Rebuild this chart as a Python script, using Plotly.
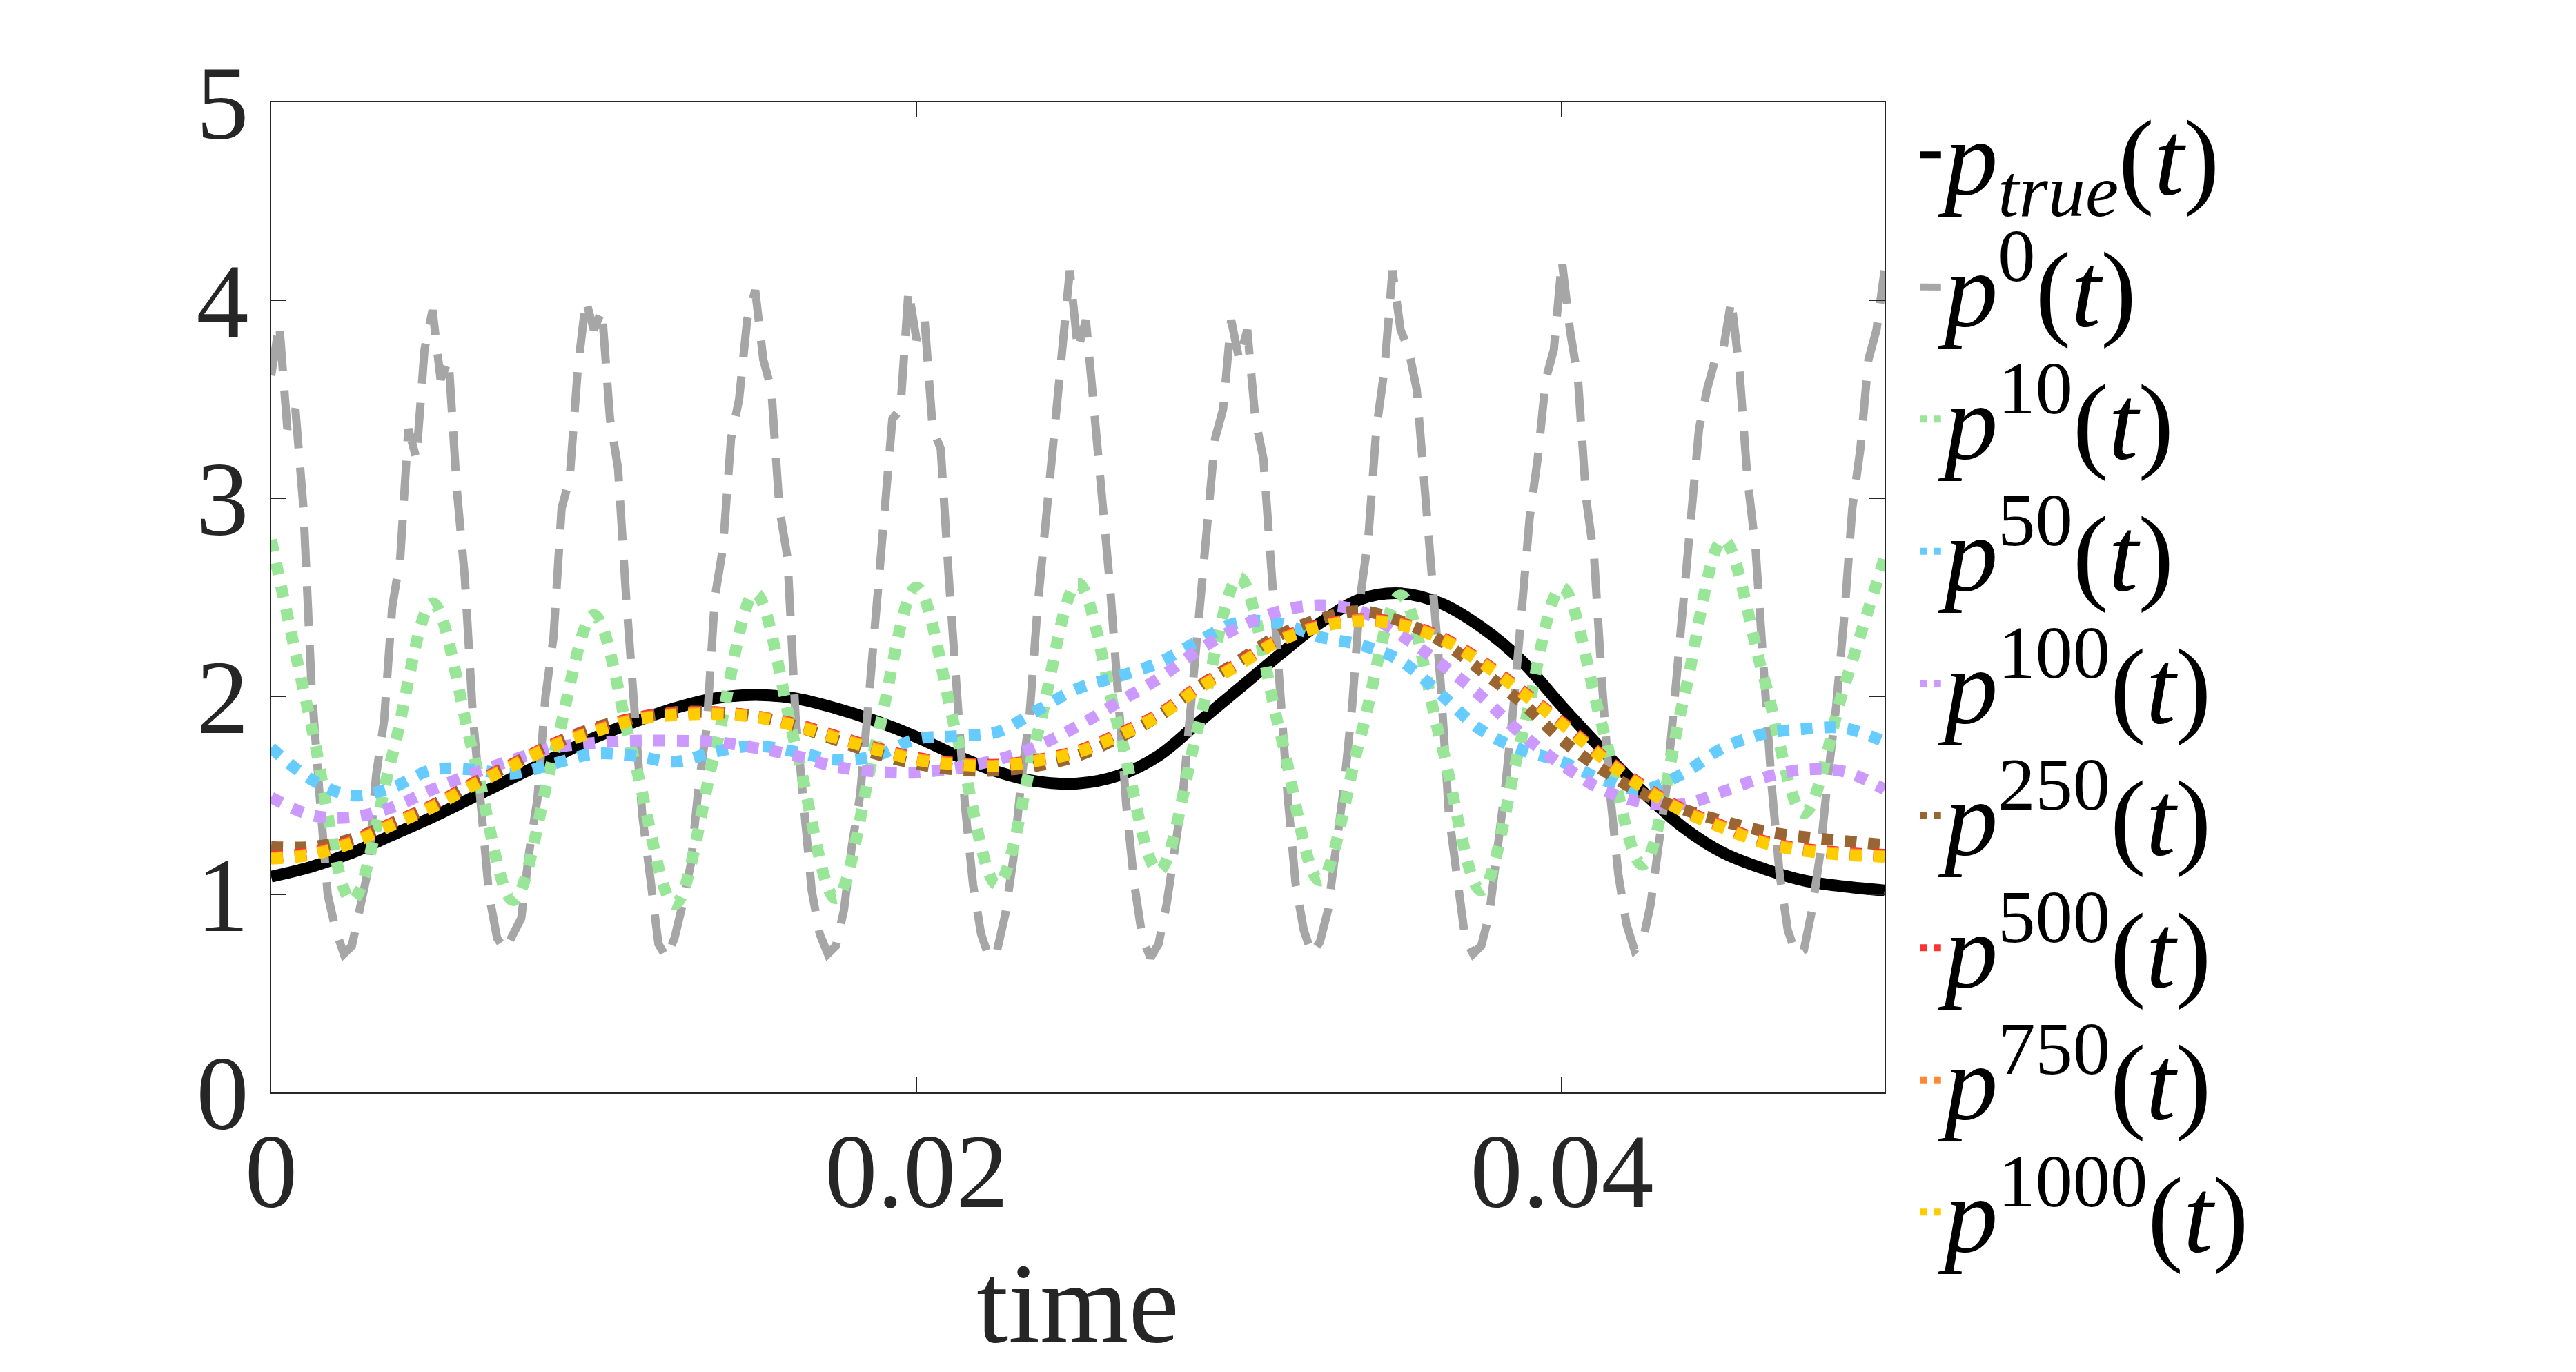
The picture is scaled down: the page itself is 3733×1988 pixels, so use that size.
import plotly.graph_objects as go

# sample times
t_fine = [round(i * 0.00125, 5) for i in range(41)]
t_noisy = [round(i * 0.00025, 5) for i in range(201)]

# true signal
p_true = [1.09, 1.14, 1.21, 1.30, 1.39, 1.49, 1.59, 1.69, 1.79, 1.87,
          1.94, 1.99, 2.007, 1.99, 1.94, 1.875, 1.795, 1.70, 1.62, 1.57,
          1.56, 1.60, 1.70, 1.87, 2.04, 2.21, 2.37, 2.49, 2.52, 2.47,
          2.35, 2.18, 1.95, 1.73, 1.52, 1.34, 1.21, 1.13, 1.07, 1.04,
          1.02]

# initial guess (noisy)
p_0 = [3.62, 3.88, 3.35, 3.45, 2.95, 2.05, 1.50, 1.00, 0.82, 0.70,
       0.74, 0.95, 1.12, 1.60, 1.88, 2.45, 2.70, 3.35, 3.20, 3.75,
       3.95, 3.60, 3.70, 3.05, 2.60, 1.90, 1.48, 1.00, 0.78, 0.72,
       0.80, 0.88, 1.22, 1.48, 2.00, 2.30, 2.95, 3.10, 3.65, 4.00,
       3.85, 3.95, 3.40, 3.15, 2.50, 2.00, 1.40, 1.08, 0.75, 0.68,
       0.78, 0.95, 1.15, 1.55, 1.85, 2.50, 2.75, 3.30, 3.50, 3.90,
       4.05, 3.70, 3.55, 2.95, 2.70, 1.90, 1.50, 1.02, 0.80, 0.70,
       0.74, 0.92, 1.25, 1.50, 1.95, 2.40, 2.85, 3.40, 3.45, 4.05,
       3.80, 3.90, 3.35, 3.25, 2.60, 2.05, 1.45, 1.05, 0.80, 0.68,
       0.72, 0.90, 1.18, 1.58, 1.90, 2.45, 2.90, 3.25, 3.70, 4.15,
       3.75, 3.90, 3.45, 3.05, 2.55, 2.00, 1.45, 1.05, 0.78, 0.68,
       0.75, 0.95, 1.20, 1.50, 1.95, 2.35, 2.85, 3.30, 3.45, 3.90,
       3.70, 3.85, 3.40, 3.20, 2.60, 2.00, 1.50, 1.05, 0.82, 0.70,
       0.76, 0.92, 1.22, 1.55, 1.95, 2.50, 2.80, 3.35, 3.65, 4.15,
       3.85, 3.75, 3.55, 3.05, 2.55, 2.05, 1.40, 1.05, 0.78, 0.70,
       0.74, 0.90, 1.20, 1.55, 1.95, 2.40, 2.90, 3.20, 3.60, 3.75,
       4.20, 3.85, 3.60, 3.00, 2.70, 2.05, 1.50, 1.10, 0.85, 0.72,
       0.76, 0.95, 1.25, 1.55, 2.00, 2.45, 2.85, 3.35, 3.55, 3.70,
       3.75, 4.00, 3.65, 3.10, 2.75, 2.10, 1.55, 1.10, 0.82, 0.70,
       0.72, 0.92, 1.20, 1.60, 1.95, 2.40, 2.95, 3.25, 3.70, 3.85,
       4.15]

p_10 = [2.79, 1.85, 0.97, 1.70, 2.47, 1.72, 0.97, 1.70, 2.41, 1.68,
        0.95, 1.72, 2.52, 1.75, 0.98, 1.77, 2.55, 1.80, 1.05, 1.81,
        2.57, 1.85, 1.12, 1.86, 2.60, 1.83, 1.07, 1.79, 2.51, 1.77,
        1.02, 1.79, 2.55, 1.85, 1.15, 1.97, 2.79, 2.10, 1.41, 2.05,
        2.70]

p_50 = [1.74, 1.58, 1.50, 1.54, 1.63, 1.63, 1.61, 1.66, 1.71, 1.70,
        1.67, 1.72, 1.75, 1.72, 1.68, 1.70, 1.785, 1.80, 1.82, 1.93,
        2.04, 2.10, 2.17, 2.28, 2.375, 2.37, 2.30, 2.26, 2.18, 2.01,
        1.83, 1.73, 1.67, 1.58, 1.53, 1.61, 1.74, 1.81, 1.835, 1.84,
        1.77]

p_100 = [1.49, 1.40, 1.39, 1.44, 1.53, 1.61, 1.68, 1.74, 1.765, 1.776,
         1.776, 1.77, 1.74, 1.70, 1.645, 1.62, 1.615, 1.64, 1.68, 1.75,
         1.85, 1.97, 2.09, 2.235, 2.35, 2.43, 2.46, 2.43, 2.31, 2.165,
         2.00, 1.81, 1.655, 1.53, 1.465, 1.455, 1.52, 1.59, 1.63, 1.62,
         1.53]

p_250 = [1.24, 1.24, 1.28, 1.36, 1.45, 1.56, 1.66, 1.76, 1.84, 1.89,
         1.92, 1.92, 1.90, 1.85, 1.78, 1.71, 1.66, 1.63, 1.625, 1.65,
         1.70, 1.79, 1.90, 2.05, 2.18, 2.31, 2.39, 2.43, 2.38, 2.28,
         2.13, 1.97, 1.78, 1.63, 1.51, 1.43, 1.37, 1.32, 1.29, 1.27,
         1.25]

p_500 = [1.19, 1.21, 1.27, 1.36, 1.45, 1.56, 1.66, 1.76, 1.83, 1.89,
         1.915, 1.92, 1.90, 1.86, 1.80, 1.74, 1.69, 1.665, 1.655, 1.68,
         1.725, 1.81, 1.91, 2.05, 2.17, 2.29, 2.36, 2.39, 2.37, 2.30,
         2.18, 2.03, 1.87, 1.70, 1.55, 1.43, 1.345, 1.27, 1.23, 1.21,
         1.20]

p_750 = [1.185, 1.205, 1.265, 1.355, 1.445, 1.555, 1.655, 1.755, 1.825, 1.885,
         1.91, 1.915, 1.90, 1.855, 1.795, 1.735, 1.685, 1.66, 1.65, 1.677,
         1.72, 1.805, 1.905, 2.045, 2.165, 2.285, 2.355, 2.385, 2.365, 2.295,
         2.175, 2.025, 1.865, 1.695, 1.545, 1.425, 1.34, 1.265, 1.225, 1.205,
         1.195]

p_1000 = [1.18, 1.20, 1.26, 1.35, 1.44, 1.55, 1.65, 1.75, 1.82, 1.88,
          1.905, 1.91, 1.895, 1.85, 1.79, 1.73, 1.68, 1.655, 1.648, 1.675,
          1.718, 1.80, 1.90, 2.04, 2.16, 2.28, 2.35, 2.38, 2.36, 2.29,
          2.17, 2.02, 1.86, 1.69, 1.54, 1.42, 1.335, 1.26, 1.22, 1.20,
          1.19]

labels = ["<i>p</i><sub><i>true</i></sub>(<i>t</i>)",
          "<i>p</i><sup>0</sup>(<i>t</i>)",
          "<i>p</i><sup>10</sup>(<i>t</i>)",
          "<i>p</i><sup>50</sup>(<i>t</i>)",
          "<i>p</i><sup>100</sup>(<i>t</i>)",
          "<i>p</i><sup>250</sup>(<i>t</i>)",
          "<i>p</i><sup>500</sup>(<i>t</i>)",
          "<i>p</i><sup>750</sup>(<i>t</i>)",
          "<i>p</i><sup>1000</sup>(<i>t</i>)"]

series = [
    (t_fine, p_true, "black", "solid", 17),
    (t_noisy, p_0, "#a6a6a6", "58px,28px", 12),
    (t_fine, p_10, "#99e699", "dot", 17),
    (t_fine, p_50, "#66ccff", "dot", 17),
    (t_fine, p_100, "#cc99ff", "dot", 17),
    (t_fine, p_250, "#996633", "dot", 17),
    (t_fine, p_500, "#ff3333", "dot", 17),
    (t_fine, p_750, "#ff8833", "dot", 17),
    (t_fine, p_1000, "#ffcc00", "dot", 17),
]

fig = go.Figure()
for label, (x, y, color, dash, w) in zip(labels, series):
    shape = "linear" if x is t_noisy else "spline"
    fig.add_trace(go.Scatter(x=x, y=y, mode="lines",
                             name='<span style="font-size:155px">' + label + '</span>',
                             line=dict(color=color, dash=dash, width=w, shape=shape)))

axis_font = dict(family="Liberation Serif", size=152, color="#262626")
fig.update_xaxes(range=[0, 0.05], tickvals=[0, 0.02, 0.04], ticktext=["0", "0.02", "0.04"],
                 ticks="inside", ticklen=22, tickwidth=2, tickcolor="#262626",
                 showline=True, linecolor="#262626", linewidth=2, mirror="ticks",
                 showgrid=False, zeroline=False, tickfont=axis_font, ticklabelstandoff=-18,
                 title=dict(text="time", font=dict(family="Liberation Serif", size=165, color="#262626"),
                            standoff=55))
fig.update_yaxes(range=[0, 5], tickvals=[0, 1, 2, 3, 4, 5],
                 ticks="inside", ticklen=22, tickwidth=2, tickcolor="#262626",
                 showline=True, linecolor="#262626", linewidth=2, mirror="ticks",
                 showgrid=False, zeroline=False, tickfont=axis_font, ticklabelstandoff=0)

fig.update_layout(
    width=3717, height=1972,
    margin=dict(l=385, r=994, t=140, b=397),
    plot_bgcolor="white", paper_bgcolor="white",
    showlegend=True,
    legend=dict(x=1.02, xanchor="left", y=1.017, yanchor="top",
                font=dict(family="Liberation Serif", size=145, color="black"),
                bgcolor="rgba(0,0,0,0)", itemwidth=30, tracegroupgap=0,
                maxheight=1900),
)

fig.write_html("out.html")
